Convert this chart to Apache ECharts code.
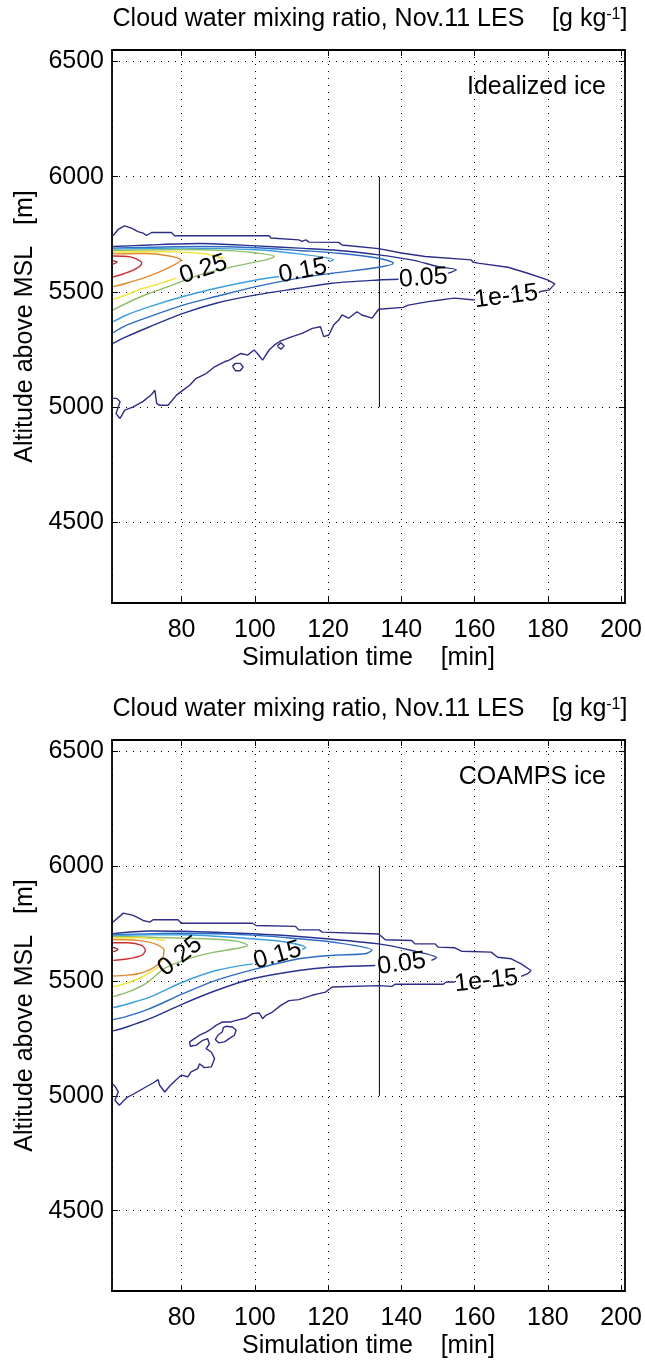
<!DOCTYPE html>
<html>
<head>
<meta charset="utf-8">
<script src="https://cdn.jsdelivr.net/npm/echarts@6/dist/echarts.min.js"></script>
<style>
html,body{margin:0;padding:0;background:#fff;}
#main{width:645px;height:1360px;}
</style>
</head>
<body>
<div id="main"></div>
<script>
// axis limits
const timeRange = [61, 201];      // min
const altRange = [4150, 6550];    // m
const levelNames = ['1e-15', '0.05', '0.10', '0.15', '0.20', '0.25', '0.30', '0.35', '0.40'];

// vertical marker at 134 min, 5000-6000 m
const markerLine = [[134, 5000], [134, 6000]];

// ---- Idealized ice: contour polylines [time, altitude], split where a label sits
const ideal_1e15 = [
  [[61.3,5744],[62.6,5770],[64.4,5787],[66.3,5777],[68.1,5762],[69.5,5755],[70.4,5745],[71.8,5758],[77.2,5758],[78.1,5744],[103.9,5744],[104.4,5734],[112,5726],[112.9,5719],[113.9,5726],[114.8,5716],[122.9,5715],[123.8,5704],[133.8,5688],[140,5669],[146.5,5654],[159.1,5639],[159.5,5630],[160.9,5625],[169.1,5607],[174.5,5581],[179.9,5552],[181.9,5535],[180.4,5509],[177.7,5501]],
  [[160,5465],[154.6,5473],[152.8,5470],[150.7,5465],[147.3,5458],[141.9,5443],[140.5,5433],[133.8,5425],[132,5386],[129.2,5400],[127.9,5414],[125.6,5386],[123.8,5400],[122.9,5378],[121.5,5356],[120.2,5313],[118.8,5306],[117.9,5349],[115.7,5342],[112.9,5320],[110.2,5306],[107.1,5288],[105.3,5269],[103.9,5248],[102.1,5204],[100.7,5233],[99.8,5248],[98,5226],[96.2,5233],[93,5204],[91.7,5197],[89,5175],[86.7,5146],[84,5125],[82.2,5095],[80.4,5074],[78.6,5052],[76.3,5008],[74,5008],[73.2,5016],[72.7,5074],[71.8,5055],[69.5,5025],[66.8,5001],[64.5,4987],[63.2,4951],[62.1,4972],[62.7,5001],[63.2,5023],[62.3,5038],[61.2,5038]],
  [[93.9,5178],[94.7,5190],[96,5190],[96.8,5174],[96,5158],[94.7,5158],[93.9,5178]],
  [[106.1,5265],[107.1,5279],[108,5265],[107.1,5251],[106.1,5265]]
];
const ideal_005 = [
  [[61.3,5697],[71.3,5704],[85,5710],[100.3,5700],[112,5690],[122.9,5680],[133.8,5661],[142.8,5639],[150,5610],[155,5596],[152.8,5581]],
  [[139.2,5555],[133.8,5552],[121.1,5538],[112,5516],[100.3,5487],[89.4,5451],[80.4,5407],[71.3,5349],[65,5306],[61.3,5277]]
];
const ideal_010 = [
  [[61.3,5690],[85,5697],[100.3,5692],[112,5680],[122.9,5668],[133.8,5646],[137.8,5625],[133.8,5607],[121.1,5581],[112,5560],[100.3,5523],[89.4,5480],[80.4,5443],[71.3,5393],[65,5356],[61.3,5323]]
];
const ideal_015 = [
  [[61.3,5686],[80,5690],[100.3,5683],[112,5665],[121.5,5639],[120.2,5632]],
  [[106.6,5567],[100.3,5552],[89.4,5516],[80.4,5480],[71.3,5436],[65,5400],[61.3,5371]]
];
const ideal_020 = [
  [[61.3,5680],[80,5684],[94,5678],[100.3,5669],[105.3,5654],[103,5639],[94,5610],[84.9,5574],[80,5545],[75.8,5520],[70.5,5490],[66.8,5465],[61.3,5422]]
];
const ideal_025 = [
  [[61.3,5673],[75,5675],[85,5668],[89,5657],[91.7,5643]],
  [[78.6,5560],[71.3,5523],[68.1,5509],[65,5487],[61.3,5468]]
];
const ideal_030 = [
  [[61.3,5665],[70,5667],[76.3,5657],[79.8,5639],[76.5,5606],[70.5,5565],[65.4,5540],[61.3,5523]]
];
const ideal_035 = [
  [[61.3,5656],[66,5652],[69.1,5625],[67.5,5600],[64.4,5580],[61.3,5565]]
];
const ideal_040 = [
  [[61.1,5636],[62.4,5630],[61.1,5620]]
];
const idealLabels = [['0.25', 86, 5598], ['0.15', 113.1, 5591], ['0.05', 146, 5560], ['1e-15', 168.6, 5480]];

// ---- COAMPS ice
const coamps_1e15 = [
  [[61.3,5757],[64.1,5796],[66.8,5786],[69.5,5764],[71.3,5757],[72.2,5767],[79,5767],[79.9,5752],[99.4,5752],[100.3,5742],[111.1,5738],[112,5723],[117.5,5723],[118.4,5713],[133.8,5705],[135.6,5680],[142.8,5677],[143.7,5662],[149.2,5662],[150,5648],[154.6,5645],[156.4,5630],[164.5,5626],[166.3,5604],[170,5597],[172.7,5575],[175.4,5546],[174.5,5532],[172.7,5520]],
  [[154.6,5496],[152.3,5496],[151.4,5486],[138.3,5486],[137.4,5477],[133.8,5480],[121.1,5474],[119.3,5452],[117.5,5445],[115.6,5438],[112,5419],[109.3,5415],[107.1,5394],[104.8,5365],[103,5351],[102.1,5336],[101.2,5361],[99.4,5358],[97.6,5339],[94.9,5329],[93.5,5322],[91.2,5322],[89.4,5307],[87.6,5286],[86.7,5278],[84.9,5264],[83.5,5249],[82.2,5235],[82.4,5216],[84,5221],[85.8,5242],[87.1,5249],[87.6,5227],[86.7,5206],[88.1,5191],[89,5162],[88.1,5126],[86.2,5123],[84.9,5140],[84.4,5119],[82.6,5104],[81.7,5083],[79.9,5090],[78.6,5071],[76.7,5042],[75.4,5017],[74,5046],[73.6,5071],[72.2,5056],[69.5,5032],[66.8,5007],[65,4992],[63,4959],[61.8,4981],[62.7,5017],[61.8,5042],[61.2,5051]],
  [[92.1,5303],[93.9,5300],[94.9,5286],[94.4,5264],[93,5249],[91.7,5235],[90.1,5231],[89.2,5245],[89.9,5264],[91.1,5278],[91.4,5297],[92.1,5303]]
];
const coamps_005 = [
  [[61.3,5706],[71.3,5718],[80.4,5717],[99.4,5706],[112,5694],[133.8,5662],[142.8,5633],[149.6,5601],[148.2,5590]],
  [[132.9,5568],[121.1,5561],[112,5546],[99.4,5510],[89.4,5459],[80.4,5401],[71.3,5336],[65,5300],[61.3,5283]]
];
const coamps_010 = [
  [[61.3,5701],[80,5708],[99.4,5700],[112,5684],[121.1,5670],[132,5634],[130.1,5619],[121.1,5612],[112,5597],[100.3,5553],[89.4,5503],[80.4,5445],[71.3,5380],[65,5346],[61.3,5332]]
];
const coamps_015 = [
  [[61.3,5699],[80,5702],[99.4,5684],[108.4,5670],[113.9,5645],[112.9,5638]],
  [[99.4,5575],[89.4,5546],[80.4,5496],[71.3,5430],[65,5399],[61.3,5384]]
];
const coamps_020 = [
  [[61.3,5694],[86.2,5684],[95.3,5673],[98,5655],[95.7,5644],[89,5626],[81.7,5597],[75.5,5556],[70.5,5492],[66,5456],[61.3,5432]]
];
const coamps_025 = [
  [[61.3,5688],[68,5689],[75.4,5678]],
  [[73.6,5560],[70.9,5532],[68.1,5510],[64.5,5488],[61.3,5476]]
];
const coamps_030 = [
  [[61.3,5681],[68.1,5677],[72.7,5662],[75.2,5634],[74.5,5590],[71.8,5553],[68.1,5532],[64.5,5525],[61.3,5522]]
];
const coamps_035 = [
  [[61.3,5667],[65.4,5667],[69.1,5655],[70.1,5634],[69.1,5612],[65.4,5597],[61.3,5590]]
];
const coamps_040 = [
  [[61.1,5648],[62.6,5638],[61.1,5627]]
];
const coampsLabels = [['0.25', 79.6, 5608], ['0.15', 106.2, 5612], ['0.05', 140.1, 5575], ['1e-15', 163.2, 5500]];

// styling
const FONT = "'Liberation Sans', Arial, sans-serif";
const FS = 25;
const levelColors = ['#2e2c86', '#27318f', '#2c6cc4', '#3c9fe0', '#8fbd6c', '#efe432', '#df8a2e', '#c93131', '#9b2b2b'];
const idealRot = [18, 11, 4, 7];
const coampsRot = [38, 16, 8, 6];

const panels = [
  {top: 50, name: 'Idealized ice',
   contours: [ideal_1e15, ideal_005, ideal_010, ideal_015, ideal_020, ideal_025, ideal_030, ideal_035, ideal_040],
   labels: idealLabels, rot: idealRot},
  {top: 740, name: 'COAMPS ice',
   contours: [coamps_1e15, coamps_005, coamps_010, coamps_015, coamps_020, coamps_025, coamps_030, coamps_035, coamps_040],
   labels: coampsLabels, rot: coampsRot}
];

const grids = [], xAxes = [], yAxes = [], series = [], graphics = [];
const plotH = 553;

panels.forEach(function(p, i){
  grids.push({left: 112, top: p.top, width: 515, height: plotH});
  const tick = {inside: true, length: 6, lineStyle: {color: '#000', width: 1}};
  const line = {onZero: false, lineStyle: {color: '#000', width: 1.8}};
  const grid = {show: true, lineStyle: {color: '#000', width: 1, type: [1, 6]}};
  xAxes.push({
    gridIndex: i, type: 'value', position: 'bottom', min: timeRange[0], max: timeRange[1], splitNumber: 7,
    name: 'Simulation time    [min]', nameLocation: 'middle', nameGap: 43,
    nameTextStyle: {fontSize: FS, color: '#000', fontFamily: FONT},
    axisLine: line, axisTick: tick, splitLine: grid,
    axisLabel: {fontSize: FS, color: '#000', fontFamily: FONT, margin: 15, showMinLabel: false, showMaxLabel: false}
  });
  xAxes.push({
    gridIndex: i, type: 'value', position: 'top', min: timeRange[0], max: timeRange[1], splitNumber: 7,
    axisLine: line, axisTick: tick, splitLine: {show: false}, axisLabel: {show: false}
  });
  yAxes.push({
    gridIndex: i, type: 'value', position: 'left', min: altRange[0], max: altRange[1], splitNumber: 5,
    name: 'Altitude above MSL   [m]', nameLocation: 'middle', nameGap: 68,
    nameTextStyle: {fontSize: FS, color: '#000', fontFamily: FONT},
    axisLine: line, axisTick: tick, splitLine: grid,
    axisLabel: {fontSize: FS, color: '#000', fontFamily: FONT, margin: 8, showMinLabel: false, showMaxLabel: false,
                formatter: function(v){ return String(v); }}
  });
  yAxes.push({
    gridIndex: i, type: 'value', position: 'right', min: altRange[0], max: altRange[1], splitNumber: 5,
    axisLine: line, axisTick: tick, splitLine: {show: false}, axisLabel: {show: false}
  });

  const ax = 2 * i;
  p.contours.forEach(function(segs, k){
    segs.forEach(function(seg){
      series.push({
        type: 'line', xAxisIndex: ax, yAxisIndex: ax, data: seg,
        symbol: 'none', smooth: k === 0 ? false : 0.3, silent: true, z: 3,
        lineStyle: {color: levelColors[k], width: 1.4}
      });
    });
  });

  series.push({
    type: 'line', xAxisIndex: ax, yAxisIndex: ax, data: markerLine,
    symbol: 'none', silent: true, z: 2, lineStyle: {color: '#000', width: 1}
  });

  series.push({
    type: 'scatter', xAxisIndex: ax, yAxisIndex: ax, symbolSize: 0, silent: true, z: 5,
    itemStyle: {color: '#000'},
    label: {show: true, position: 'inside', fontSize: FS, color: '#000', fontFamily: FONT,
            textBorderWidth: 0, opacity: 1},
    data: p.labels.map(function(l, j){
      return {value: [l[1], l[2]], label: {formatter: l[0], rotate: p.rot[j]}};
    })
  });

  graphics.push({
    type: 'text', x: 370, y: p.top - 31, z: 10,
    style: {
      text: '{a|Cloud water mixing ratio, Nov.11 LES    [g kg}{s|-1}{a|]}',
      align: 'center', verticalAlign: 'middle',
      rich: {
        a: {fontSize: FS, fontFamily: FONT, fill: '#000'},
        s: {fontSize: 16, fontFamily: FONT, fill: '#000', verticalAlign: 'top'}
      }
    }
  });
  graphics.push({
    type: 'text', x: 606, y: p.top + 37, z: 10,
    style: {text: p.name, fontSize: FS, fontFamily: FONT, fill: '#000', align: 'right', verticalAlign: 'middle'}
  });
});

const chart = echarts.init(document.getElementById('main'));
chart.setOption({
  animation: false,
  backgroundColor: '#fff',
  grid: grids,
  xAxis: xAxes,
  yAxis: yAxes,
  series: series,
  graphic: graphics
});
</script>
</body>
</html>
